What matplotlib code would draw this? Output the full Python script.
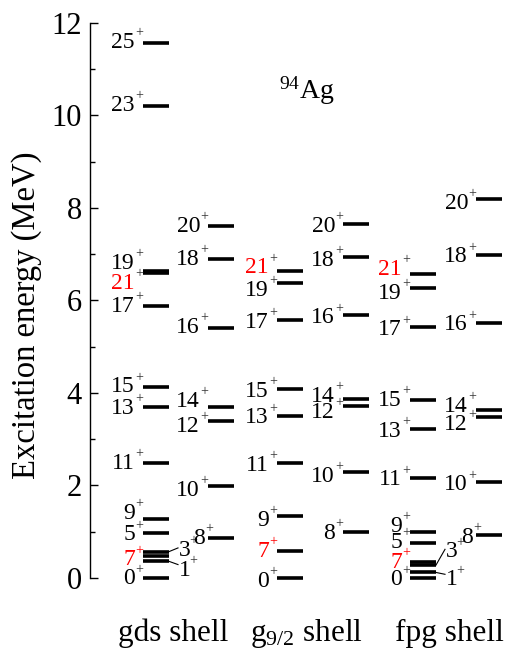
import matplotlib.pyplot as plt
from matplotlib.ticker import MultipleLocator

plt.rcParams['font.family'] = ['Liberation Serif', 'DejaVu Serif']
plt.rcParams['mathtext.fontset'] = 'custom'
plt.rcParams['mathtext.rm'] = 'Liberation Serif'
plt.rcParams['mathtext.it'] = 'Liberation Serif:italic'

# calculated levels of 94Ag (all positive parity), energies in MeV
gds_spin_a = [0, 1, 7, 3, 5, 9, 11, 13, 15, 17, 21, 19, 23, 25]
gds_energy_a = [0.00, 0.36, 0.47, 0.57, 0.98, 1.27, 2.48, 3.70, 4.13, 5.87, 6.60, 6.63, 10.21, 11.57]
gds_spin_b = [8, 10, 12, 14, 16, 18, 20]
gds_energy_b = [0.87, 1.99, 3.39, 3.70, 5.41, 6.89, 7.60]

g9_spin_a = [0, 7, 9, 11, 13, 15, 17, 19, 21]
g9_energy_a = [0.00, 0.58, 1.34, 2.48, 3.50, 4.09, 5.57, 6.37, 6.63]
g9_spin_b = [8, 10, 12, 14, 16, 18, 20]
g9_energy_b = [1.00, 2.28, 3.72, 3.86, 5.68, 6.94, 7.64]

fpg_spin_a = [0, 1, 3, 7, 5, 9, 11, 13, 15, 17, 19, 21]
fpg_energy_a = [0.00, 0.12, 0.28, 0.34, 0.76, 1.00, 2.17, 3.23, 3.84, 5.42, 6.27, 6.58]
fpg_spin_b = [8, 10, 12, 14, 16, 18, 20]
fpg_energy_b = [0.93, 2.08, 3.48, 3.63, 5.52, 6.99, 8.19]

shell_names = ['gds shell', r'g$_{9/2}$ shell', 'fpg shell']
red_spins = [7, 21]

# label nudges (MeV) so that crowded labels do not overlap
gds_shift_a = {19: 0.17, 21: -0.23, 9: 0.13, 5: -0.05, 7: -0.08, 0: -0.02, 13: -0.03}
gds_shift_b = {14: 0.11, 12: -0.12, 10: -0.09, 8: -0.01}
g9_shift_a = {21: 0.07, 19: -0.15, 17: -0.05, 15: -0.06, 13: -0.04, 11: -0.04, 9: -0.09, 0: -0.08}
g9_shift_b = {20: -0.05, 18: -0.07, 16: -0.06, 14: 0.06, 12: -0.15, 10: -0.09, 8: -0.03}
fpg_shift_a = {21: 0.08, 19: -0.12, 17: -0.06, 13: -0.07, 11: -0.05, 9: 0.11, 0: -0.04}
fpg_shift_b = {20: -0.09, 18: -0.05, 16: -0.05, 14: 0.07, 12: -0.17, 10: -0.07, 8: -0.05}

# labels placed on the right with a leader line: spin -> label energy
gds_right = {3: 0.60, 1: 0.17}
fpg_right = {3: 0.57, 1: -0.04}

bar_w = 26
columns = [
    (143, gds_spin_a, gds_energy_a, gds_shift_a, gds_right, 0),
    (208, gds_spin_b, gds_energy_b, gds_shift_b, {}, 5),
    (277, g9_spin_a, g9_energy_a, g9_shift_a, {}, 0),
    (343, g9_spin_b, g9_energy_b, g9_shift_b, {}, 0),
    (410, fpg_spin_a, fpg_energy_a, fpg_shift_a, fpg_right, 0),
    (476, fpg_spin_b, fpg_energy_b, fpg_shift_b, {}, 5),
]

fig = plt.figure(figsize=(5.11, 6.52), dpi=100)
ax = fig.add_axes([90 / 511, 74 / 652, 421 / 511, 555.3 / 652])
ax.set_xlim(90, 511)
ax.set_ylim(0, 12)

for x0, spins, energies, shifts, right, dx8 in columns:
    for s, e in zip(spins, energies):
        ax.plot([x0, x0 + bar_w], [e, e], color='black', lw=2.6,
                solid_capstyle='butt', clip_on=False)
        col = 'red' if s in red_spins else 'black'
        sup_col = 'red' if s == 7 else '#333333'
        if s in right:
            ly = right[s]
            lx = x0 + bar_w + 10
            ax.plot([x0 + bar_w, lx - 1], [e, ly + (0.05 if ly > e else 0.12)],
                    color='black', lw=0.8, clip_on=False)
            ax.text(lx, ly, str(s), fontsize=17, color=col, ha='left', va='center')
            ax.text(lx + 9 * len(str(s)) + 1, ly + 0.2, '+', fontsize=10,
                    color=sup_col, ha='left', va='center')
            continue
        ly = e + shifts.get(s, 0.0)
        xr = x0 - 8 + (dx8 if s == 8 else 0)
        ax.text(xr, ly, str(s), fontsize=17, color=col, ha='right', va='center')
        ax.text(xr, ly + 0.21, '+', fontsize=10, color=sup_col,
                ha='left', va='center')

ax.text(279, 10.54, r'$^{94}$Ag', fontsize=20, ha='left', va='center')

for sp in ['top', 'right', 'bottom']:
    ax.spines[sp].set_visible(False)
ax.spines['left'].set_linewidth(1.0)
ax.set_xticks([])
ax.yaxis.set_major_locator(MultipleLocator(2))
ax.yaxis.set_minor_locator(MultipleLocator(1))
ax.tick_params(axis='y', which='major', direction='in', length=6, width=1.0,
               labelsize=22, pad=6)
ax.tick_params(axis='y', which='minor', direction='in', length=3.5, width=1.0)

fig.text(27 / 511, 1 - 315 / 652, 'Excitation energy (MeV)', fontsize=23.5,
         rotation=90, ha='center', va='center')
for name, cx in zip(shell_names, [173, 306, 449]):
    fig.text(cx / 511, 1 - 633 / 652, name, fontsize=22.5, ha='center', va='center')

fig.savefig('out.png', dpi=100)
